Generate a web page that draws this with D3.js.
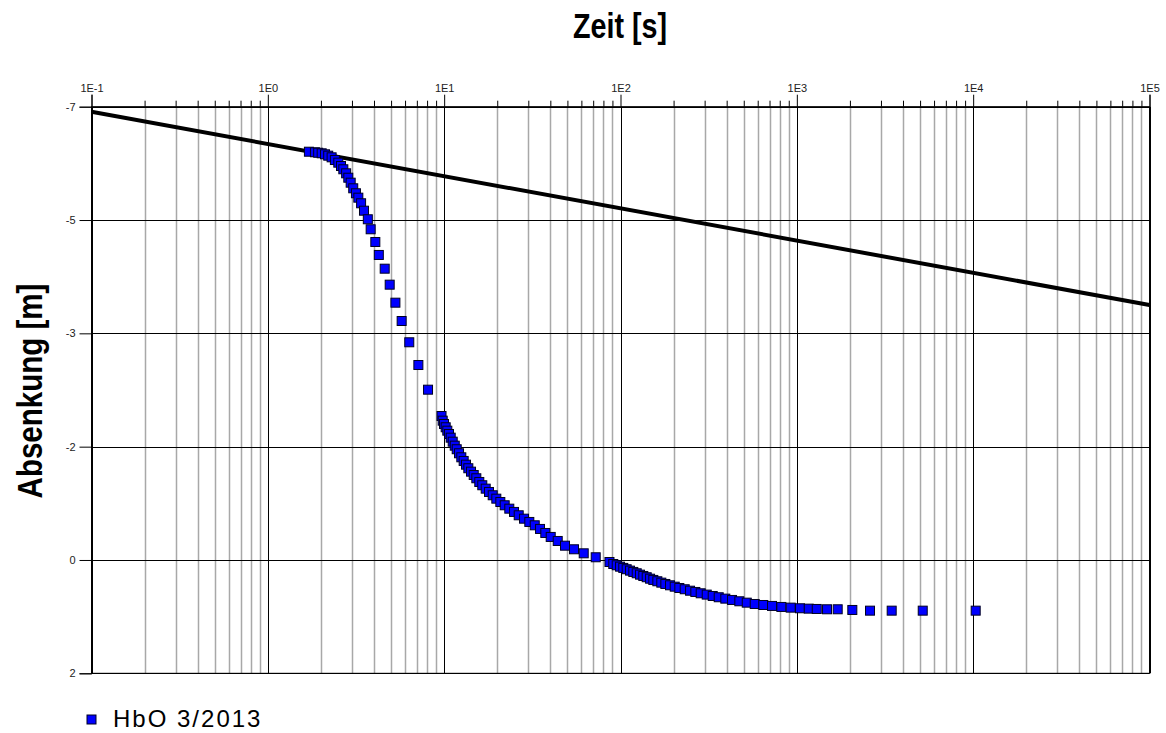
<!DOCTYPE html>
<html>
<head>
<meta charset="utf-8">
<script src="https://cdn.jsdelivr.net/npm/d3@7"></script>
<style>
    body { margin: 0; background: #fff; }
    .tick text { font-family: "Liberation Sans", Arial, sans-serif; font-size: 11px; fill: #222; }
</style>
</head>
<body>
<div id="chart"></div>
<script>
// Pumpversuch HbO 3/2013: Zeit [s] vs. Absenkung [m]
const timeS = [
    1.71, 1.85, 1.93, 2.02, 2.11, 2.2, 2.3, 2.4, 2.51, 2.6,
    2.68, 2.78, 2.86, 2.95, 3.05, 3.16, 3.26, 3.38, 3.51, 3.69,
    3.83, 4.07, 4.26, 4.6, 4.91, 5.29, 5.74, 6.34, 7.14, 8.1, 9.66,
    9.81, 9.98, 10.2, 10.42, 10.65, 10.89, 11.18, 11.48, 11.78, 12.14,
    12.51, 12.9, 13.3, 13.71, 14.2, 14.71, 15.22, 15.82, 16.45, 17.2,
    17.96, 18.85, 19.76, 20.82, 22.04, 23.41, 24.9, 26.47, 28.37, 30.4,
    32.63, 34.96, 37.46, 40.2, 44.05, 48.45, 54.5, 61.86, 72.35, 86.6,
    91, 95.2, 99.4, 103.7, 108.4, 113.2, 118.2, 123.6, 129, 134.7,
    140.8, 147.1, 153.5, 161.8, 170.4, 179.6, 190.9, 203, 215.6, 231.3,
    247.9, 265.7, 285, 308.3, 333.4, 360.6, 393, 429, 472, 520,
    577, 645.5, 723, 817, 923, 1042, 1168, 1297, 1483, 1705,
    2064, 2600, 3451, 5176, 10335
];
const drawdownM = [
    -6.285, -6.276, -6.269, -6.26, -6.244, -6.222, -6.196, -6.153, -6.111, -6.058,
    -6.006, -5.942, -5.872, -5.793, -5.704, -5.625, -5.555, -5.466, -5.348, -5.212,
    -5.053, -4.851, -4.645, -4.427, -4.173, -3.887, -3.596, -3.258, -2.897, -2.505, -2.087,
    -2.013, -1.96, -1.908, -1.854, -1.801, -1.743, -1.679, -1.616, -1.559, -1.495,
    -1.431, -1.373, -1.314, -1.257, -1.203, -1.15, -1.098, -1.039, -0.987, -0.933,
    -0.88, -0.828, -0.774, -0.721, -0.669, -0.615, -0.563, -0.51, -0.456, -0.404,
    -0.351, -0.293, -0.229, -0.166, -0.102, -0.027, 0.03, 0.094, 0.157, 0.232,
    0.264, 0.284, 0.306, 0.326, 0.347, 0.369, 0.39, 0.411, 0.433, 0.454,
    0.474, 0.497, 0.517, 0.538, 0.56, 0.581, 0.602, 0.624, 0.645, 0.665,
    0.688, 0.708, 0.729, 0.75, 0.772, 0.792, 0.814, 0.835, 0.856, 0.878,
    0.899, 0.915, 0.93, 0.946, 0.957, 0.967, 0.973, 0.978, 0.983, 0.983,
    0.994, 1.005, 1.005, 1.005, 1.005
];
// Gerade (Cooper-Jacob)
const lineT = [0.1, 100000];
const lineS = [-6.92, -3.85];

const xDecades = [0.1, 1, 10, 100, 1000, 10000, 100000];
const yTicks = [-7, -5.2, -3.4, -1.6, 0.2, 2];
const seriesName = "HbO 3/2013";
const xTitle = "Zeit [s]";
const yTitle = "Absenkung [m]";

const width = 1166;
const height = 733;
const margin = ({top: 106.7, right: 16.5, bottom: 59.7, left: 91.5});

const x = d3.scaleLog()
    .domain([0.1, 100000])
    .range([margin.left, width - margin.right]);

const y = d3.scaleLinear()
    .domain([-7, 2])
    .range([margin.top, height - margin.bottom]);

// minor ticks 2..9 in every decade
const minorTicks = [];
xDecades.slice(0, -1).forEach(d => {
    for (let k = 2; k <= 9; k++) minorTicks.push(d * k);
});

const svg = d3.select("#chart").append("svg")
    .attr("width", width)
    .attr("height", height)
    .attr("viewBox", [0, 0, width, height]);

// grid
svg.append("g")
    .selectAll("line")
    .data(minorTicks)
    .join("line")
    .attr("x1", d => Math.round(x(d)) + 0.5)
    .attr("x2", d => Math.round(x(d)) + 0.5)
    .attr("y1", y(-7))
    .attr("y2", y(2))
    .attr("stroke", "#a8a8a8")
    .attr("stroke-width", 1.5);

svg.append("g")
    .selectAll("line")
    .data(xDecades)
    .join("line")
    .attr("x1", d => Math.round(x(d)) + 0.5)
    .attr("x2", d => Math.round(x(d)) + 0.5)
    .attr("y1", y(-7))
    .attr("y2", y(2))
    .attr("stroke", "#000");

svg.append("g")
    .selectAll("line")
    .data(yTicks)
    .join("line")
    .attr("x1", x(0.1))
    .attr("x2", x(100000))
    .attr("y1", d => Math.round(y(d)) + 0.5)
    .attr("y2", d => Math.round(y(d)) + 0.5)
    .attr("stroke", "#000");

// axes
const xAxis = g => g
    .attr("transform", `translate(0,${y(-7)})`)
    .call(d3.axisTop(x).tickValues(xDecades).tickSize(12).tickPadding(3)
        .tickFormat(d => "1E" + Math.round(Math.log10(d))))
    .call(g => g.select(".domain").attr("stroke", "#000"));

const xMinor = g => g
    .attr("transform", `translate(0,${y(-7)})`)
    .call(d3.axisTop(x).tickValues(minorTicks).tickSize(6).tickFormat(""))
    .call(g => g.select(".domain").remove());

const yAxis = g => g
    .attr("transform", `translate(${x(0.1)},0)`)
    .call(d3.axisLeft(y).tickValues(yTicks).tickSize(12).tickPadding(4)
        .tickFormat(d => Math.round(d)))
    .call(g => g.select(".domain").attr("stroke", "#000"));

svg.append("g").call(xMinor);
svg.append("g").call(xAxis);
svg.append("g").call(yAxis);

// frame right / bottom
svg.append("rect")
    .attr("x", x(0.1))
    .attr("y", y(-7))
    .attr("width", x(100000) - x(0.1))
    .attr("height", y(2) - y(-7))
    .attr("fill", "none")
    .attr("stroke", "#000");

// Gerade
svg.append("path")
    .datum(lineT.map((t, i) => [t, lineS[i]]))
    .attr("fill", "none")
    .attr("stroke", "#000")
    .attr("stroke-width", 4)
    .attr("d", d3.line().x(d => x(d[0])).y(d => y(d[1])));

// Messwerte
const size = 9;
svg.append("g")
    .selectAll("rect")
    .data(timeS.map((t, i) => [t, drawdownM[i]]))
    .join("rect")
    .attr("x", d => x(d[0]) - size / 2)
    .attr("y", d => y(d[1]) - size / 2)
    .attr("width", size)
    .attr("height", size)
    .attr("fill", "#0000ff")
    .attr("stroke", "#000022")
    .attr("stroke-width", 1);

// titles (narrow bold look: horizontally squeezed)
svg.append("text")
    .attr("transform", "translate(620,38) scale(0.82,1)")
    .attr("text-anchor", "middle")
    .attr("font-family", "'Liberation Sans', Arial, sans-serif")
    .attr("font-weight", "bold")
    .attr("font-size", 35)
    .attr("fill", "#000")
    .text(xTitle);

svg.append("text")
    .attr("transform", "translate(42,391) rotate(-90) scale(0.82,1)")
    .attr("text-anchor", "middle")
    .attr("font-family", "'Liberation Sans', Arial, sans-serif")
    .attr("font-weight", "bold")
    .attr("font-size", 36)
    .attr("fill", "#000")
    .text(yTitle);

// legend
svg.append("rect")
    .attr("x", 87)
    .attr("y", 715)
    .attr("width", 9)
    .attr("height", 9)
    .attr("fill", "#0000ff")
    .attr("stroke", "#000022");

svg.append("text")
    .attr("x", 113)
    .attr("y", 727)
    .attr("font-family", "'Liberation Sans', Arial, sans-serif")
    .attr("font-size", 24)
    .attr("letter-spacing", 2)
    .attr("fill", "#000")
    .text(seriesName);
</script>
</body>
</html>
